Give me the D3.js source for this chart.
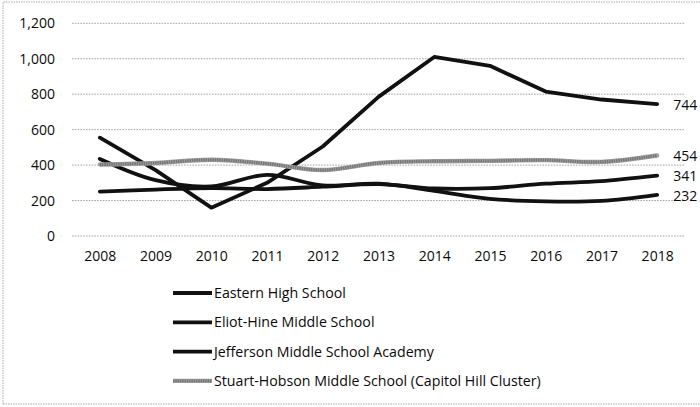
<!DOCTYPE html>
<html><head><meta charset="utf-8">
<script src="https://cdn.jsdelivr.net/npm/d3@7"></script>
<style>body{margin:0;background:#fff}svg{display:block}text{font-family:"Open Sans","Liberation Sans",sans-serif;fill:#0a0a0a}</style>
</head><body><svg id="c" width="700" height="407"></svg>
<script>
const years = ["2008","2009","2010","2011","2012","2013","2014","2015","2016","2017","2018"];
const yTicks = [0,200,400,600,800,1000,1200];
const seriesNames = ["Eastern High School","Eliot-Hine Middle School","Jefferson Middle School Academy","Stuart-Hobson Middle School (Capitol Hill Cluster)"];
const eastern = [555, 372, 160, 300, 505, 785, 1010, 960, 815, 770, 744];
const eliotHine = [435, 315, 280, 345, 285, 295, 255, 210, 195, 198, 232];
const jefferson = [250, 262, 270, 265, 278, 293, 268, 270, 295, 310, 341];
const stuartHobson = [403, 412, 430, 408, 372, 412, 422, 424, 428, 418, 454];

const allSeries = [eastern, eliotHine, jefferson, stuartHobson];
const styles = [
  {stroke:"#111", width:3.8, curve:d3.curveLinear},
  {stroke:"#111", width:3.8, curve:d3.curveCatmullRom.alpha(0.5)},
  {stroke:"#111", width:3.8, curve:d3.curveCatmullRom.alpha(0.5)},
  {stroke:"#a3a3a3", width:4.4, curve:d3.curveCatmullRom.alpha(0.5), dash:"1.5,0.8"}
];

const svg = d3.select("#c");
// scan border
svg.append("path").attr("d","M3,404 L3,2 L702,2 M3,404 L702,404")
  .attr("fill","none").attr("stroke","#aaa").attr("stroke-width",1).attr("stroke-dasharray","1.5,1");

const x = d3.scalePoint().domain(years).range([72, 685]).padding(0.5);
const y = d3.scaleLinear().domain([0,1200]).range([236, 23.3]);

const grid = svg.append("g");
grid.selectAll("line").data(yTicks).join("line")
  .attr("x1",72).attr("x2",685)
  .attr("y1",d=>y(d)).attr("y2",d=>y(d))
  .attr("stroke","#999").attr("stroke-width",0.9).attr("stroke-dasharray","1.6,1.2");

const yAxis = d3.axisLeft(y).tickValues(yTicks).tickSize(0).tickPadding(0).tickFormat(d3.format(","));
const ya = svg.append("g").attr("transform","translate(55,0)").call(yAxis);
ya.select(".domain").remove();
ya.selectAll("text").style("font-size","14px").attr("fill","#0a0a0a");

const xAxis = d3.axisBottom(x).tickSize(0).tickPadding(0);
const xa = svg.append("g").attr("transform","translate(0,251)").call(xAxis);
xa.select(".domain").remove();
xa.selectAll("text").style("font-size","14px").attr("fill","#0a0a0a");

allSeries.forEach((s,i)=>{
  const st = styles[i];
  const line = d3.line().x((d,j)=>x(years[j])).y(d=>y(d)).curve(st.curve);
  svg.append("path").datum(s).attr("d",line).attr("fill","none")
    .attr("stroke",st.stroke).attr("stroke-width",st.width)
    .attr("stroke-linejoin","round").attr("stroke-linecap","round");
  if (st.dash) {
    svg.append("path").datum(s).attr("d",line).attr("fill","none")
      .attr("stroke","#777").attr("stroke-width",st.width-1.2).attr("stroke-dasharray",st.dash);
  }
  svg.append("text").attr("x", x(years[10])+16).attr("y", y(s[10])+1)
    .attr("dy","0.35em").style("font-size","14px").text(d3.format(",")(s[10]));
});

const lg = svg.append("g");
seriesNames.forEach((n,i)=>{
  const yy = 293 + i*29.3;
  const st = styles[i];
  lg.append("line").attr("x1",173).attr("x2",212).attr("y1",yy).attr("y2",yy)
    .attr("stroke",st.stroke).attr("stroke-width",st.width);
  if (st.dash) lg.append("line").attr("x1",173).attr("x2",212).attr("y1",yy).attr("y2",yy)
    .attr("stroke","#777").attr("stroke-width",st.width-1.2).attr("stroke-dasharray",st.dash);
  lg.append("text").attr("x",214).attr("y",yy).attr("dy","0.35em").style("font-size","14.2px").text(n);
});
</script></body></html>
